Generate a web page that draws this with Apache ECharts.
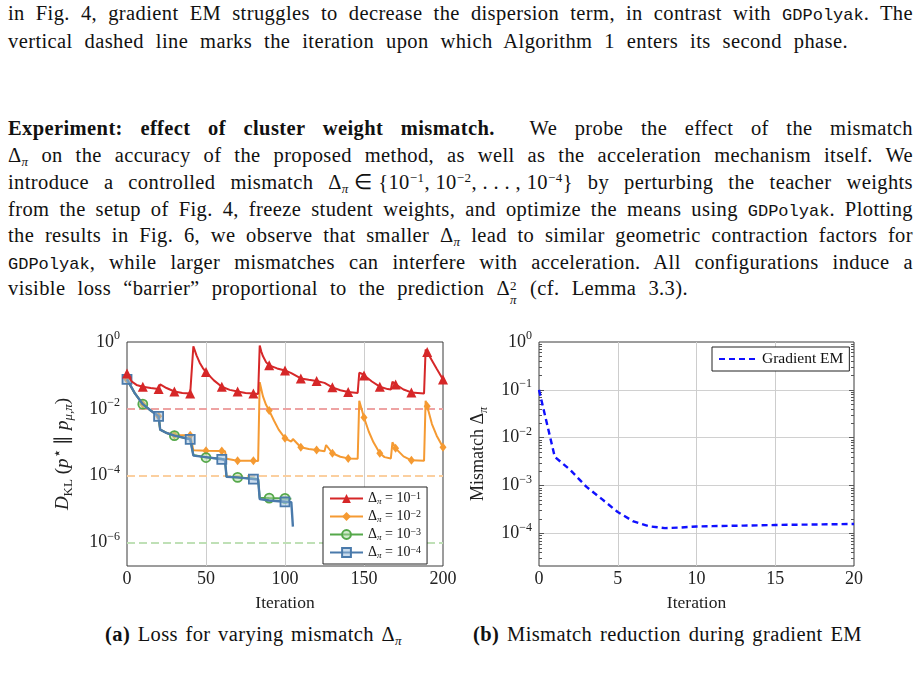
<!DOCTYPE html>
<html>
<head>
<meta charset="utf-8">
<script src="https://cdn.jsdelivr.net/npm/echarts@6/dist/echarts.min.js"></script>
<style>
html,body{margin:0;padding:0;background:#fff;width:921px;height:673px;overflow:hidden;}
.ln{position:absolute;left:8px;font-family:'Liberation Serif','Times New Roman',serif;font-size:20.5px;letter-spacing:0.4px;line-height:20px;color:#111;text-align:justify;text-align-last:justify;}
.tt{font-family:'Liberation Mono','DejaVu Sans Mono',monospace;font-size:17px;letter-spacing:0;}
.m{display:inline-block;white-space:nowrap;}
sub{font-size:13px;vertical-align:-4px;line-height:0;}
sup{font-size:13px;vertical-align:7px;line-height:0;}
.ss{display:inline-block;position:relative;width:8px;height:10px;}
.ss .a{position:absolute;left:0;top:-9px;font-size:13px;}
.ss .b{position:absolute;left:0;top:5px;font-size:13px;font-style:italic;}
#c{position:absolute;left:0;top:0;width:921px;height:673px;}
</style>
</head>
<body>
<div class="ln" style="top:3.4px;width:905px">in Fig. 4, gradient EM struggles to decrease the dispersion term, in contrast with <span class="tt">GDPolyak</span>. The</div>
<div class="ln" style="top:31.4px;width:840px">vertical dashed line marks the iteration upon which Algorithm 1 enters its second phase.</div>
<div class="ln" style="top:118.4px;width:905px"><b>Experiment: effect of cluster weight mismatch.</b>&nbsp; We probe the effect of the mismatch</div>
<div class="ln" style="top:145.4px;width:905px"><span class="m">Δ<sub><i>π</i></sub></span> on the accuracy of the proposed method, as well as the acceleration mechanism itself. We</div>
<div class="ln" style="top:172.4px;width:905px">introduce a controlled mismatch <span class="m">Δ<sub><i>π</i></sub> ∈ {10<sup>−1</sup>, 10<sup>−2</sup>, . . . , 10<sup>−4</sup>}</span> by perturbing the teacher weights</div>
<div class="ln" style="top:199.4px;width:905px">from the setup of Fig. 4, freeze student weights, and optimize the means using <span class="tt">GDPolyak</span>. Plotting</div>
<div class="ln" style="top:225.4px;width:905px">the results in Fig. 6, we observe that smaller <span class="m">Δ<sub><i>π</i></sub></span> lead to similar geometric contraction factors for</div>
<div class="ln" style="top:252.4px;width:905px"><span class="tt">GDPolyak</span>, while larger mismatches can interfere with acceleration. All configurations induce a</div>
<div class="ln" style="top:278.4px;width:680px">visible loss “barrier” proportional to the prediction <span class="m">Δ<span class="ss"><span class="a">2</span><span class="b">π</span></span></span> (cf. Lemma 3.3).</div>
<div class="ln" style="top:624.4px;left:105px;width:297px"><b>(a)</b> Loss for varying mismatch <span class="m">Δ<sub><i>π</i></sub></span></div>
<div class="ln" style="top:624.4px;left:473px;width:389px"><b>(b)</b> Mismatch reduction during gradient EM</div>
<div id="c"></div>
<script>
// ---------- data: panel (a) ----------
const deltaExps = [-1, -2, -3, -4];
const barrierVals = [1e-2, 1e-4, 1e-6];

const redIter = [0,3,6,10,15,20,21,25,30,35,40,41,42,44,46,48,50,55,60,65,70,75,80,83,84,85,86,88,90,95,100,104,105,110,115,120,125,126,130,135,140,146,147,149,150,155,160,165,167,168,170,175,180,188,189,190,193,196,200];
const redVal = [1.15e-1,6.6e-2,5.2e-2,4.6e-2,4.2e-2,3.9e-2,5.4e-2,4.2e-2,3.3e-2,3.0e-2,2.9e-2,2.9e-2,7.4e-1,4.0e-1,2.4e-1,1.66e-1,1.26e-1,7.1e-2,4.6e-2,3.7e-2,3.3e-2,3.0e-2,2.9e-2,2.8e-2,7.9e-1,5.2e-1,3.8e-1,2.5e-1,2.0e-1,1.62e-1,1.41e-1,1.17e-1,1.26e-1,8.1e-2,7.4e-2,6.8e-2,6.0e-2,6.6e-2,4.4e-2,3.6e-2,3.2e-2,3.0e-2,1.2e-1,1.1e-1,1.0e-1,6.6e-2,4.6e-2,3.9e-2,3.8e-2,6.5e-2,5.4e-2,3.8e-2,3.1e-2,2.9e-2,6.0e-1,5.0e-1,2.8e-1,1.58e-1,7.6e-2];
const redMarks = [0,10,20,30,40,50,60,70,80,90,100,110,120,130,140,150,160,170,180,190,200];

const orangeIter = [0,5,10,15,20,21,25,30,40,41,42,50,60,62,63,70,80,83,84,86,88,90,93,96,100,104,105,110,115,120,125,126,130,135,140,146,147,150,153,156,160,163,167,168,170,175,180,188,189,190,193,196,200];
const orangeVal = [7.6e-2,2.9e-2,1.38e-2,8.9e-3,6.0e-3,2.4e-3,1.9e-3,1.66e-3,1.62e-3,1.58e-3,5.8e-4,5.6e-4,5.5e-4,5.4e-4,3.2e-4,2.8e-4,2.8e-4,2.75e-4,6.3e-2,2.4e-2,1.32e-2,8.9e-3,4.5e-3,2.4e-3,1.32e-3,1.05e-3,1.26e-3,7.1e-4,6.3e-4,5.9e-4,5.4e-4,8.3e-4,4.7e-4,3.7e-4,3.3e-4,3.2e-4,1.74e-2,5.5e-3,2.1e-3,1.0e-3,4.7e-4,3.6e-4,3.3e-4,1.0e-3,6.6e-4,3.8e-4,2.9e-4,2.8e-4,1.74e-2,1.2e-2,3.5e-3,1.58e-3,7.1e-4];
const orangeMarks = [0,10,20,30,40,50,60,70,80,90,100,110,120,130,140,150,160,170,180,190,200];

const greenIter = [0,5,10,15,20,21,25,30,40,41,42,50,60,62,63,70,80,83,84,90,100,104];
const greenVal = [7.6e-2,2.9e-2,1.38e-2,8.9e-3,6.0e-3,2.4e-3,1.9e-3,1.58e-3,1.26e-3,1.23e-3,4.2e-4,3.5e-4,3.2e-4,3.0e-4,9.3e-5,8.9e-5,8.3e-5,7.9e-5,2.2e-5,2.14e-5,2.1e-5,2.04e-5];
const greenMarks = [10,30,50,70,90,100];

const blueIter = [0,5,10,15,20,21,25,30,40,41,42,50,60,62,63,70,80,83,84,90,100,104,105];
const blueVal = [7.6e-2,2.9e-2,1.38e-2,8.9e-3,6.0e-3,2.4e-3,1.9e-3,1.58e-3,1.23e-3,1.2e-3,4.0e-4,3.6e-4,3.1e-4,3.0e-4,9.3e-5,8.9e-5,7.9e-5,7.7e-5,2.0e-5,1.82e-5,1.66e-5,1.62e-5,3.0e-6];
const blueMarks = [0,20,40,60,80,100];

const xTicksA = [0,50,100,150,200];
const xGridA = [50,100,150];
const yExpA = [0,-2,-4,-6];
const yMinA = -6.7;

// ---------- data: panel (b) ----------
const emIter = [0,1,2,3,4,5,6,7,8,9,10,11,12,13,14,15,16,17,18,19,20];
const emVal = [1.0e-1,4.0e-3,2.1e-3,9.5e-4,5.2e-4,2.8e-4,1.78e-4,1.41e-4,1.29e-4,1.33e-4,1.40e-4,1.42e-4,1.44e-4,1.46e-4,1.48e-4,1.50e-4,1.52e-4,1.53e-4,1.55e-4,1.56e-4,1.58e-4];
const xTicksB = [0,5,10,15,20];
const xGridB = [5,10,15];
const yExpB = [0,-1,-2,-3,-4];
const yMinB = -4.68;

// ---------- styling ----------
const FONT = "'Liberation Serif','Times New Roman',serif";
const RED = '#d62728', ORANGE = '#f59a32', GREEN = '#55a84a', BLUE = '#4a7aab';
const barrierColors = ['#eea3a3', '#fbcf9f', '#bfe0b6'];
const names = deltaExps.map(e => 'Δπ = 10^' + e);

const minorB = [];
for (let j = -5; j < 0; j++) for (let k = 2; k <= 9; k++) {
  const v = j + Math.log10(k);
  if (v >= yMinB && v <= 0) minorB.push(v);
}

function mk(iter, val, marks) {
  return iter.map((it, i) => {
    const d = { value: [it, Math.log10(val[i])] };
    if (marks.indexOf(it) < 0) d.symbol = 'none';
    return d;
  });
}
function powLabel(v) {
  const e = Math.round(v);
  return '{b|10}{s|' + (e < 0 ? '−' + (-e) : String(e)) + '}';
}
const tickRich = {
  b: { fontFamily: FONT, fontSize: 18, color: '#222', lineHeight: 24 },
  s: { fontFamily: FONT, fontSize: 12, color: '#222', verticalAlign: 'top' }
};
const legRich = {
  d: { fontFamily: FONT, fontSize: 14, color: '#111', lineHeight: 15 },
  sub: { fontFamily: FONT, fontSize: 9, color: '#111', fontStyle: 'italic', verticalAlign: 'bottom' },
  sup: { fontFamily: FONT, fontSize: 10, color: '#111', verticalAlign: 'top' }
};
function nameRich(fs) {
  const sm = Math.round(fs * 0.68);
  return {
    n: { fontFamily: FONT, fontSize: fs, color: '#222', lineHeight: 24 },
    i: { fontFamily: FONT, fontSize: fs, color: '#222', fontStyle: 'italic', lineHeight: 24 },
    sub: { fontFamily: FONT, fontSize: sm, color: '#222', verticalAlign: 'bottom' },
    subi: { fontFamily: FONT, fontSize: sm, color: '#222', fontStyle: 'italic', verticalAlign: 'bottom' },
    sup: { fontFamily: FONT, fontSize: sm + 2, color: '#222', verticalAlign: 'top' }
  };
}
function barrier(i) {
  return {
    silent: true, z: 1, symbol: ['none', 'none'], animation: false,
    label: { show: false },
    lineStyle: { color: barrierColors[i], type: [8, 4], width: 2 },
    emphasis: { disabled: true },
    data: [{ yAxis: Math.log10(barrierVals[i]) }]
  };
}
const xLab = { fontFamily: FONT, fontSize: 18, color: '#222', margin: 4 };
const nameX = { fontFamily: FONT, fontSize: 17.5, color: '#222' };

const option = {
  animation: false,
  grid: [
    { left: 127, top: 342, width: 316, height: 224, show: true, borderColor: '#3a3a3a', borderWidth: 1, backgroundColor: 'transparent', containLabel: false, outerBoundsMode: 'none' },
    { left: 539, top: 342, width: 315, height: 224, show: true, borderColor: '#3a3a3a', borderWidth: 1, backgroundColor: 'transparent', containLabel: false, outerBoundsMode: 'none' }
  ],
  xAxis: [
    { gridIndex: 0, type: 'value', min: 0, max: 200, axisLine: { show: false },
      axisTick: { show: false, customValues: xGridA },
      axisLabel: Object.assign({ customValues: xTicksA }, xLab),
      splitLine: { show: true, lineStyle: { color: '#cdcdcd', width: 1 } },
      name: 'Iteration', nameLocation: 'middle', nameGap: 28, nameTextStyle: nameX },
    { gridIndex: 1, type: 'value', min: 0, max: 20, axisLine: { show: false },
      axisTick: { show: false, customValues: xGridB },
      axisLabel: Object.assign({ customValues: xTicksB }, xLab),
      splitLine: { show: true, lineStyle: { color: '#cdcdcd', width: 1 } },
      name: 'Iteration', nameLocation: 'middle', nameGap: 28, nameTextStyle: nameX }
  ],
  yAxis: [
    { gridIndex: 0, type: 'value', min: yMinA, max: 0, axisLine: { show: false },
      axisTick: { show: false, customValues: yExpA },
      axisLabel: { customValues: yExpA, formatter: powLabel, margin: 7, rich: tickRich },
      splitLine: { show: false },
      name: '{i|D}{sub|KL}{n| (}{i|p}{sup|⋆}{n| ∥ }{i|p}{subi|μ,π}{n|)}',
      nameLocation: 'middle', nameGap: 52, nameRotate: 90,
      nameTextStyle: { fontFamily: FONT, fontSize: 19, color: '#222', rich: nameRich(19) } },
    { gridIndex: 1, type: 'value', min: yMinB, max: 0, axisLine: { show: false },
      axisTick: { show: true, inside: true, length: 5, customValues: yExpB.slice(1), lineStyle: { color: '#555' } },
      axisLabel: { customValues: yExpB, formatter: powLabel, margin: 7, rich: tickRich },
      splitLine: { show: true, lineStyle: { color: '#d0d0d0', width: 1 } },
      name: '{n|Mismatch Δ}{subi|π}',
      nameLocation: 'middle', nameGap: 49, nameRotate: 90,
      nameTextStyle: { fontFamily: FONT, fontSize: 18, color: '#222', rich: nameRich(18) } },
    { gridIndex: 1, type: 'value', min: yMinB, max: 0, position: 'left', axisLine: { show: false },
      axisTick: { show: true, inside: true, length: 3, customValues: minorB, lineStyle: { color: '#555' } },
      axisLabel: { show: false }, splitLine: { show: false } },
    { gridIndex: 1, type: 'value', min: yMinB, max: 0, position: 'right', axisLine: { show: false },
      axisTick: { show: true, inside: true, length: 3, customValues: minorB, lineStyle: { color: '#555' } },
      axisLabel: { show: false }, splitLine: { show: false } },
    { gridIndex: 1, type: 'value', min: yMinB, max: 0, position: 'right', axisLine: { show: false },
      axisTick: { show: true, inside: true, length: 5, customValues: yExpB.slice(1), lineStyle: { color: '#555' } },
      axisLabel: { show: false }, splitLine: { show: false } }
  ],
  legend: [
    { left: 323, top: 487, orient: 'vertical', data: names, selectedMode: false, z: 20,
      padding: [4, 6], itemGap: 3, itemWidth: 33, itemHeight: 11,
      borderColor: '#222', borderWidth: 1, backgroundColor: '#fff',
      textStyle: { fontFamily: FONT, fontSize: 14, color: '#111', rich: legRich },
      formatter: function (name) {
        const e = name.split('^')[1];
        return '{d|Δ}{sub|π}{d| = 10}{sup|' + e.replace('-', '−') + '}';
      } },
    { left: 712, top: 347, data: ['Gradient EM'], selectedMode: false, z: 20,
      padding: [4, 6], itemWidth: 38, itemHeight: 12,
      borderColor: '#222', borderWidth: 1, backgroundColor: '#fff',
      itemStyle: { opacity: 0 },
      textStyle: { fontFamily: FONT, fontSize: 15.5, color: '#111' } }
  ],
  series: [
    { name: names[0], type: 'line', xAxisIndex: 0, yAxisIndex: 0, z: 6,
      data: mk(redIter, redVal, redMarks), symbol: 'triangle', symbolSize: 10, showAllSymbol: true,
      lineStyle: { color: RED, width: 2 }, itemStyle: { color: RED },
      emphasis: { disabled: true }, markLine: barrier(0) },
    { name: names[1], type: 'line', xAxisIndex: 0, yAxisIndex: 0, z: 3,
      data: mk(orangeIter, orangeVal, orangeMarks), symbol: 'diamond', symbolSize: [7, 9], showAllSymbol: true,
      lineStyle: { color: ORANGE, width: 2 }, itemStyle: { color: ORANGE },
      emphasis: { disabled: true }, markLine: barrier(1) },
    { name: names[2], type: 'line', xAxisIndex: 0, yAxisIndex: 0, z: 4,
      data: mk(greenIter, greenVal, greenMarks), symbol: 'circle', symbolSize: 9, showAllSymbol: true,
      lineStyle: { color: GREEN, width: 2 }, itemStyle: { color: 'rgba(170,215,160,0.5)', borderColor: GREEN, borderWidth: 1.8 },
      emphasis: { disabled: true }, markLine: barrier(2) },
    { name: names[3], type: 'line', xAxisIndex: 0, yAxisIndex: 0, z: 5,
      data: mk(blueIter, blueVal, blueMarks), symbol: 'rect', symbolSize: 9, showAllSymbol: true,
      lineStyle: { color: BLUE, width: 2.4 }, itemStyle: { color: 'rgba(150,185,220,0.5)', borderColor: BLUE, borderWidth: 1.8 },
      emphasis: { disabled: true } },
    { name: 'Gradient EM', type: 'line', xAxisIndex: 1, yAxisIndex: 1, z: 5,
      data: emIter.map((x, i) => [x, Math.log10(emVal[i])]), symbol: 'none', showSymbol: false,
      lineStyle: { color: '#1010ff', width: 2.4, type: [6, 4] }, itemStyle: { color: '#1010ff' },
      emphasis: { disabled: true } }
  ]
};
const chart = echarts.init(document.getElementById('c'), null, { renderer: 'canvas', width: 921, height: 673 });
chart.setOption(option);
</script>
</body>
</html>
